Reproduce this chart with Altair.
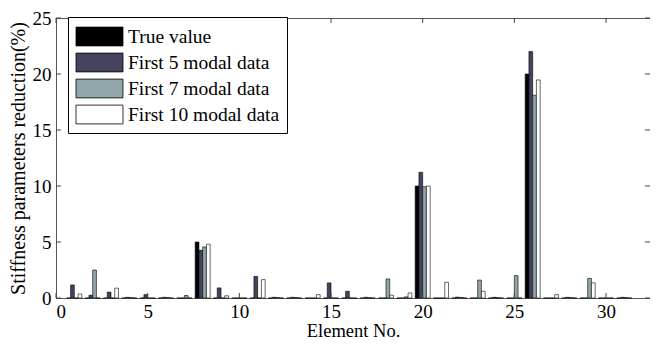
import altair as alt
import pandas as pd

elements = list(range(1, 32))
series_names = ["True value", "First 5 modal data", "First 7 modal data", "First 10 modal data"]
series_colors = ["#000000", "#45445f", "#91a6aa", "#ffffff"]

true_value = [0, 0, 0, 0, 0, 0, 0, 5.0, 0, 0,
              0, 0, 0, 0, 0, 0, 0, 0, 0, 10.0,
              0, 0, 0, 0, 0, 20.0, 0, 0, 0, 0, 0]
first5 = [1.17, 0.25, 0.53, 0.06, 0.3, 0.06, 0, 4.27, 0.9, 0,
          1.93, 0.06, 0.06, 0, 1.35, 0.6, 0.06, 0, 0, 11.22,
          0, 0.08, 0, 0.06, 0, 22.0, 0, 0.06, 0, 0, 0.06]
first7 = [0, 2.5, 0, 0.04, 0, 0.04, 0.22, 4.56, 0, 0,
          0, 0.04, 0.04, 0, 0, 0, 0.04, 1.7, 0.1, 9.94,
          0, 0.04, 1.6, 0.04, 2.0, 18.1, 0, 0.04, 1.75, 0, 0.04]
first10 = [0.35, 0, 0.88, 0, 0, 0, 0, 4.8, 0.2, 0,
           1.64, 0, 0, 0.3, 0, 0, 0, 0.25, 0.45, 10.0,
           1.4, 0, 0.6, 0, 0, 19.47, 0.3, 0, 1.35, 0, 0]

x_ticks = [0, 5, 10, 15, 20, 25, 30]
y_ticks = [0, 5, 10, 15, 20, 25]

rows = []
for idx, (name, vals) in enumerate(zip(series_names, [true_value, first5, first7, first10])):
    for e, v in zip(elements, vals):
        rows.append({"element": e, "series": name, "idx": idx, "value": v})
df = pd.DataFrame(rows)

W, H = 594, 280
FONT = "Liberation Serif"
x_scale = alt.Scale(domain=[0, 32.4], nice=False, zero=False)
y_scale = alt.Scale(domain=[0, 25], nice=False)
x_axis = alt.Axis(values=x_ticks, title="Element No.", labelPadding=4,
                  titlePadding=0, format="d", titleFontSize=18.5)
y_axis = alt.Axis(values=y_ticks, title="Stiffness parameters reduction(%)",
                  labelPadding=5, titlePadding=4, titleFontSize=20)

bars = alt.Chart(df).transform_calculate(
    x0="datum.element - 0.408 + datum.idx * 0.204",
    x1="datum.element - 0.204 + datum.idx * 0.204",
).mark_bar(stroke="black", strokeWidth=0.6).encode(
    x=alt.X("x0:Q", scale=x_scale, axis=x_axis),
    x2="x1:Q",
    y=alt.Y("value:Q", scale=y_scale, axis=y_axis),
    y2=alt.datum(0),
    color=alt.Color("series:N", sort=series_names,
                    scale=alt.Scale(domain=series_names, range=series_colors),
                    legend=alt.Legend(orient="none", legendX=12, legendY=-1, title=None,
                                      direction="vertical",
                                      strokeColor="black", fillColor="white", padding=7,
                                      symbolType="M-2,-0.8H2V0.8H-2Z", symbolSize=552,
                                      symbolOffset=12,
                                      symbolStrokeColor="black", symbolStrokeWidth=0.8,
                                      labelFont=FONT, labelFontSize=19.5, labelColor="black",
                                      labelOffset=16, rowPadding=2)),
)

xt = pd.DataFrame({"t": x_ticks})
yt = pd.DataFrame({"t": y_ticks})
tick_col = "#444444"
bottom_ticks = alt.Chart(xt).mark_rule(color=tick_col).encode(
    x=alt.X("t:Q", scale=x_scale, axis=x_axis), y=alt.value(H), y2=alt.value(H - 5))
top_ticks = alt.Chart(xt).mark_rule(color=tick_col).encode(
    x=alt.X("t:Q", scale=x_scale, axis=x_axis), y=alt.value(0), y2=alt.value(5))
left_ticks = alt.Chart(yt).mark_rule(color=tick_col).encode(
    y=alt.Y("t:Q", scale=y_scale, axis=y_axis), x=alt.value(0), x2=alt.value(5))
right_ticks = alt.Chart(yt).mark_rule(color=tick_col).encode(
    y=alt.Y("t:Q", scale=y_scale, axis=y_axis), x=alt.value(W), x2=alt.value(W - 5))

chart = alt.layer(bars, bottom_ticks, top_ticks, left_ticks, right_ticks).properties(
    width=W, height=H,
    autosize=alt.AutoSizeParams(type="none"),
    padding={"left": 48, "top": 10, "right": 0, "bottom": 49},
).configure_view(
    stroke="#555555", strokeWidth=1
).configure_axis(
    domain=False, ticks=False, grid=False,
    labelFont=FONT, labelFontSize=19, labelColor="black",
    titleFont=FONT, titleColor="black", titleFontWeight="normal",
)

chart.save("out.html", embed_options={"renderer": "svg", "actions": False})
